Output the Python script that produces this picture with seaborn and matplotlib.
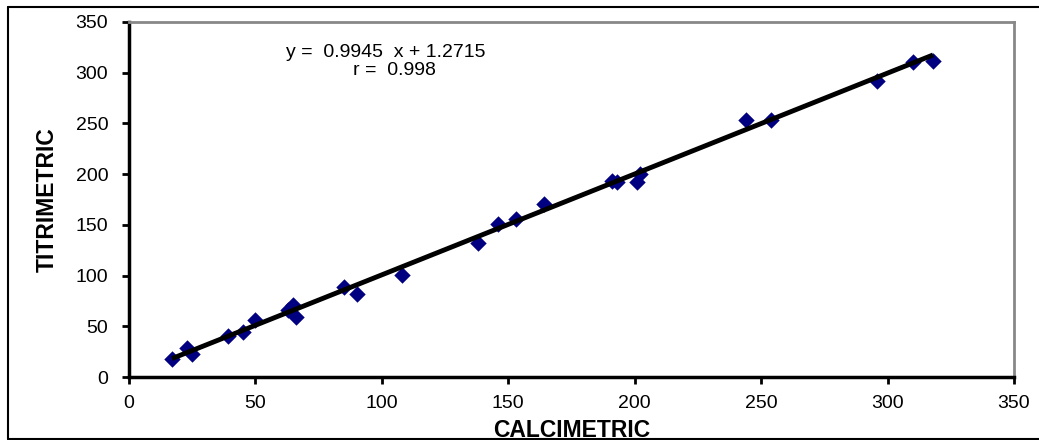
import numpy as np
import matplotlib.pyplot as plt
import seaborn as sns
from matplotlib.lines import Line2D

# --- data ---
calcimetric = [17, 23, 25, 39, 45, 50, 63, 65, 66, 85, 90, 108,
               138, 146, 153, 164, 191, 193, 201, 202, 244, 254, 296, 310, 318]
titrimetric = [18, 29, 23, 40, 44, 56, 66, 71, 59, 89, 82, 101,
               132, 151, 156, 171, 193, 192, 192, 200, 253, 253, 292, 311, 312]
slope = 0.9945
intercept = 1.2715
r_value = 0.998
ticks = [0, 50, 100, 150, 200, 250, 300, 350]

sns.set_theme(style="white", rc={'text.color': 'black',
                                 'axes.labelcolor': 'black'})
plt.rcParams['font.family'] = ['Liberation Sans', 'DejaVu Sans']

fig = plt.figure(figsize=(10.39, 4.40), dpi=100)
ax = fig.add_axes([129 / 1039, 63 / 440, 885 / 1039, 355 / 440])

sns.scatterplot(x=calcimetric, y=titrimetric, ax=ax, marker='D', s=70,
                color='#000080', edgecolor='#000080', linewidth=0, zorder=3)

# trend line
xs = np.array([min(calcimetric), max(calcimetric)])
ax.plot(xs, slope * xs + intercept, color='black', lw=3.5, zorder=4,
        solid_capstyle='butt')

ax.set_xlim(0, 350)
ax.set_ylim(0, 350)
ax.set_xticks(ticks)
ax.set_yticks(ticks)
ax.tick_params(axis='both', direction='out', length=5, width=2, color='black',
               labelsize=14, labelcolor='black', left=True, bottom=True)
ax.tick_params(axis='y', pad=10)
ax.tick_params(axis='x', pad=8)

for side in ['left', 'bottom']:
    ax.spines[side].set_color('black')
    ax.spines[side].set_linewidth(2.5)
for side in ['top', 'right']:
    ax.spines[side].set_color('#888888')
    ax.spines[side].set_linewidth(2)

ax.set_xlabel("CALCIMETRIC", fontsize=16.5, fontweight='bold', va='center',
              color='black')
ax.set_ylabel("TITRIMETRIC", fontsize=16.5, fontweight='bold', va='center',
              color='black')
ax.xaxis.set_label_coords(0.5, (377 - 430) / 355)
ax.yaxis.set_label_coords((47 - 129) / 885, 0.5)

ax.text(0.290, 0.913, f"y =  {slope}  x + {intercept}", transform=ax.transAxes,
        ha='center', va='center', fontsize=14, color='black')
ax.text(0.300, 0.862, f"r =  {r_value}", transform=ax.transAxes,
        ha='center', va='center', fontsize=14, color='black')

# outer chart border
W, H = 1039, 440
for (x0, y0, x1, y1) in [(8, 7, 1039, 7), (8, 7, 8, 439), (8, 439, 1039, 439)]:
    fig.add_artist(Line2D([x0 / W, x1 / W], [1 - y0 / H, 1 - y1 / H],
                          color='black', lw=1.5, transform=fig.transFigure))

fig.savefig("out.png", dpi=100)
